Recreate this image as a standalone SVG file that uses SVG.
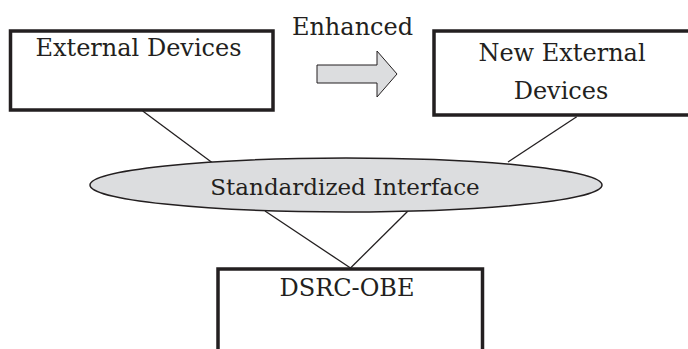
<svg xmlns="http://www.w3.org/2000/svg" width="688" height="349" viewBox="0 0 688 349">
<style>
.box{fill:#fff;stroke:#231f20;stroke-width:3.5}
.t{font-family:"DejaVu Serif","Liberation Serif",serif;font-size:24px;fill:#231f20;text-anchor:middle}
.ln{stroke:#231f20;stroke-width:1.3;fill:none}
</style>
<rect width="688" height="349" fill="#fff"/>
<g id="connectors">
<line class="ln" x1="142.7" y1="111" x2="212" y2="162.5"/>
<line class="ln" x1="576.7" y1="116.7" x2="508" y2="162"/>
<line class="ln" x1="265" y1="211" x2="350.5" y2="268"/>
<line class="ln" x1="408" y1="211" x2="350.5" y2="268"/>
</g>
<g id="external-devices">
<rect class="box" x="10.5" y="31" width="262.5" height="79"/>
<text class="t" x="138.5" y="56">External Devices</text>
</g>
<g id="enhanced-arrow">
<text class="t" x="352.5" y="35">Enhanced</text>
<polygon points="317,65 377,65 377,51 397,74 377,97 377,83 317,83" fill="#dcdddf" stroke="#231f20" stroke-width="1"/>
</g>
<g id="new-external-devices">
<rect class="box" x="434" y="31" width="258" height="84"/>
<text class="t" x="562" y="61">New External</text>
<text class="t" x="561" y="99">Devices</text>
</g>
<g id="standardized-interface">
<ellipse cx="346" cy="185" rx="256" ry="27" fill="#dcdddf" stroke="#231f20" stroke-width="1.5"/>
<text class="t" x="345" y="195" style="font-size:23px">Standardized  Interface</text>
</g>
<g id="dsrc-obe">
<rect class="box" x="218" y="269" width="264.5" height="100"/>
<text class="t" x="347" y="296">DSRC-OBE</text>
</g>
</svg>
